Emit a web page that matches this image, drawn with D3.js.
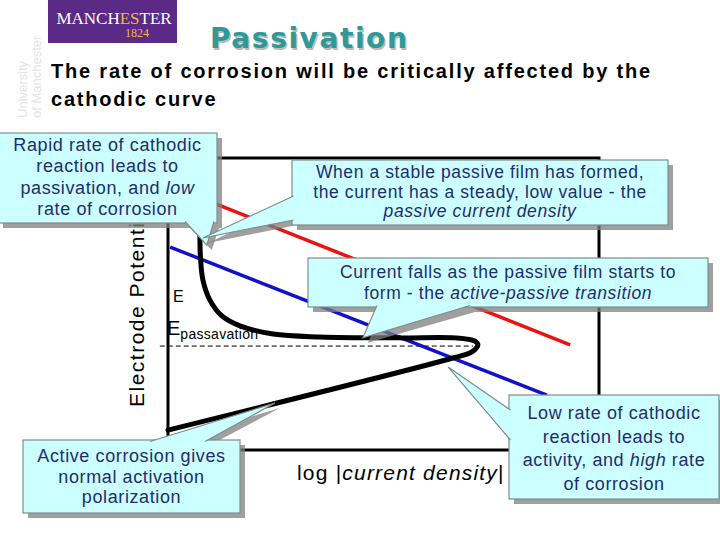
<!DOCTYPE html>
<html>
<head>
<meta charset="utf-8">
<script src="https://cdn.jsdelivr.net/npm/d3@7/dist/d3.min.js"></script>
<style>
  body { margin: 0; background: #fff; }
  svg { display: block; font-family: "Liberation Sans", Arial, sans-serif; }
</style>
</head>
<body>
<script>
//cathodic line for a rapid cathodic reaction (x = log|i|, y = potential)
var redX = [0, 9.33];
var redY = [9.08, 3.60];

//cathodic line for a slow cathodic reaction
var blueX = [0.05, 8.79];
var blueY = [6.95, 1.88];

//anodic curve with the active-passive loop
var anodicX = [0.74, 0.74, 0.75, 0.81, 0.97, 1.25, 1.67, 2.44, 3.53, 5.38, 6.66, 7.12, 7.19, 7.05, 6.61, 0];
var anodicY = [8.10, 7.60, 6.68, 5.82, 5.14, 4.59, 4.25, 3.97, 3.87, 3.84, 3.84, 3.73, 3.60, 3.36, 3.15, 0.68];

//passivation potential (dashed)
var passX = [-0.19, 7.08];
var passY = [3.56, 3.56];

//texts
var titleText = "Passivation";
var subtitleLines = ["The rate of corrosion will be critically affected by the", "cathodic curve"];
var yLabel = "Electrode Potential";
var xLabel = [["log |", false], ["current density", true], ["|", false]];

//callout texts, a "*" in front of a piece means italic
var noteTexts = [
  [["Rapid rate of cathodic"], ["reaction leads to"], ["passivation, and ", "*low"], ["rate of corrosion"]],
  [["When a stable passive film has formed,"], ["the current has a steady, low value - the"], ["*passive current density"]],
  [["Current falls as the passive film starts to"], ["form - the ", "*active-passive transition"]],
  [["Active corrosion gives"], ["normal activation"], ["polarization"]],
  [["Low rate of cathodic"], ["reaction leads to"], ["activity, and ", "*high", " rate"], ["of corrosion"]]
];

//callout layout (box in pixels, tail tip in data units)
var noteBoxes = [
  {x: -2, y: 133, w: 219, h: 90, ty: 151, lh: 21.3, fs: 18, side: "bottom", base: [185, 214], tip: [0.90, 7.02]},
  {x: 292, y: 160, w: 376, h: 65, ty: 178, lh: 19.5, fs: 17.5, side: "left", base: [196, 220], tip: [0.81, 7.26]},
  {x: 308, y: 258, w: 400, h: 49, ty: 278, lh: 21, fs: 17.5, side: "bottom", base: [377, 470], tip: [4.52, 3.84]},
  {x: 23, y: 440, w: 217, h: 73, ty: 462, lh: 20.5, fs: 18, side: "top", base: [150, 205], tip: [2.48, 1.61]},
  {x: 509, y: 395, w: 210, h: 104, ty: 419, lh: 23.7, fs: 18, side: "left", base: [410, 440], tip: [6.50, 2.84]}
];

const w = 720;
const h = 540;

const svg = d3.select("body")
              .append("svg")
              .attr("width", w)
              .attr("height", h);

//scales
const xScale = d3.scaleLinear().domain([0, 10]).range([168, 599]);
const yScale = d3.scaleLinear().domain([0, 10]).range([450, 158]);

//logo block
svg.append("rect")
   .attr("x", 48).attr("y", 0)
   .attr("width", 129).attr("height", 43)
   .attr("fill", "#5a2a86");

var logo = svg.append("text")
   .attr("x", 114).attr("y", 24)
   .attr("text-anchor", "middle")
   .attr("font-family", "Liberation Serif, serif")
   .attr("font-size", 17)
   .attr("fill", "#fff");
logo.append("tspan").text("MANCH");
logo.append("tspan").attr("fill", "#f2b844").text("ES");
logo.append("tspan").text("TER");

svg.append("text")
   .attr("x", 137).attr("y", 37)
   .attr("text-anchor", "middle")
   .attr("font-family", "Liberation Serif, serif")
   .attr("font-size", 12)
   .attr("fill", "#f2b844")
   .text("1824");

//faint vertical university text
["University", "of Manchester"].forEach(function(t, i) {
  svg.append("text")
     .attr("transform", "translate(" + (27 + i * 14) + ",118) rotate(-90)")
     .attr("font-size", 13)
     .attr("fill", "#e4e4e4")
     .text(t);
});

//title with a light shadow
svg.append("text")
   .attr("x", 211.5).attr("y", 49.5)
   .attr("font-family", "DejaVu Sans, Verdana, sans-serif")
   .attr("font-weight", "bold")
   .attr("font-size", 28)
   .attr("letter-spacing", 1.6)
   .attr("fill", "#bbbbbb")
   .text(titleText);
svg.append("text")
   .attr("x", 210).attr("y", 48)
   .attr("font-family", "DejaVu Sans, Verdana, sans-serif")
   .attr("font-weight", "bold")
   .attr("font-size", 28)
   .attr("letter-spacing", 1.6)
   .attr("fill", "#2f9999")
   .text(titleText);

//subtitle
subtitleLines.forEach(function(t, i) {
  svg.append("text")
     .attr("x", 51).attr("y", 78 + i * 28)
     .attr("font-size", 20)
     .attr("font-weight", "bold")
     .attr("letter-spacing", 1.8)
     .attr("fill", "#000")
     .text(t);
});

//axis label (partly hidden under the first callout)
svg.append("text")
   .attr("transform", "translate(144,407) rotate(-90)")
   .attr("font-size", 21)
   .attr("letter-spacing", 1.5)
   .attr("fill", "#000")
   .text(yLabel);

//axis frame
svg.append("rect")
   .attr("x", xScale(0)).attr("y", yScale(10))
   .attr("width", xScale(10) - xScale(0))
   .attr("height", yScale(0) - yScale(10))
   .attr("fill", "none")
   .attr("stroke", "#000")
   .attr("stroke-width", 3);

const line = d3.line()
               .x((d) => xScale(d[0]))
               .y((d) => yScale(d[1]));

//dashed passivation line
svg.append("path")
   .attr("d", line(d3.zip(passX, passY)))
   .attr("fill", "none")
   .attr("stroke", "#000")
   .attr("stroke-width", 1)
   .attr("stroke-dasharray", "5,3");

//cathodic lines
svg.append("path")
   .attr("d", line(d3.zip(redX, redY)))
   .attr("fill", "none")
   .attr("stroke", "#ee1111")
   .attr("stroke-width", 3.5);

svg.append("path")
   .attr("d", line(d3.zip(blueX, blueY)))
   .attr("fill", "none")
   .attr("stroke", "#1111cc")
   .attr("stroke-width", 3.5);

//anodic curve
svg.append("path")
   .attr("d", line.curve(d3.curveCatmullRom.alpha(0.5))(d3.zip(anodicX, anodicY)))
   .attr("fill", "none")
   .attr("stroke", "#000")
   .attr("stroke-width", 5)
   .attr("stroke-linecap", "round");

//E labels
svg.append("text")
   .attr("x", 173).attr("y", 302)
   .attr("font-size", 16)
   .text("E");
var ep = svg.append("text")
   .attr("x", 167).attr("y", 335)
   .attr("font-size", 20);
ep.append("tspan").text("E");
ep.append("tspan").attr("font-size", 14).attr("dy", 4).attr("letter-spacing", 0.3).text("passavation");

//x axis label
var xl = svg.append("text")
   .attr("x", 297).attr("y", 480)
   .attr("font-size", 21)
   .attr("letter-spacing", 1.2)
   .attr("fill", "#000");
xLabel.forEach(function(p) {
  xl.append("tspan").attr("font-style", p[1] ? "italic" : "normal").text(p[0]);
});

//function that returns the tail triangle of a callout
function tailPoints(b, inset) {
  var t = [xScale(b.tip[0]), yScale(b.tip[1])];
  if (b.side == "bottom") return [[b.base[0], b.y + b.h - inset], t, [b.base[1], b.y + b.h - inset]];
  if (b.side == "top") return [[b.base[0], b.y + inset], t, [b.base[1], b.y + inset]];
  return [[b.x + inset, b.base[0]], t, [b.x + inset, b.base[1]]];
}

//draw the callouts
noteBoxes.forEach(function(b, i) {
  var g = svg.append("g");

  //shadow
  var sh = g.append("g")
            .attr("transform", "translate(5,5)")
            .attr("opacity", 0.75);
  sh.append("rect")
    .attr("x", b.x).attr("y", b.y)
    .attr("width", b.w).attr("height", b.h)
    .attr("fill", "#7f7f7f");
  sh.append("path")
    .attr("d", "M" + tailPoints(b, 0).join("L") + "Z")
    .attr("fill", "#7f7f7f");

  //box and tail
  g.append("rect")
   .attr("x", b.x).attr("y", b.y)
   .attr("width", b.w).attr("height", b.h)
   .attr("fill", "#ccffff")
   .attr("stroke", "#7f8c8c")
   .attr("stroke-width", 1.2);
  g.append("path")
   .attr("d", "M" + tailPoints(b, 1.5).join("L"))
   .attr("fill", "#ccffff")
   .attr("stroke", "#7f8c8c")
   .attr("stroke-width", 1.2);

  //text lines
  noteTexts[i].forEach(function(parts, j) {
    var t = g.append("text")
             .attr("x", b.x + b.w / 2)
             .attr("y", b.ty + j * b.lh)
             .attr("text-anchor", "middle")
             .attr("font-size", b.fs)
             .attr("letter-spacing", 0.6)
             .attr("fill", "#1f2d6e");
    parts.forEach(function(p) {
      var it = p.charAt(0) == "*";
      t.append("tspan")
       .attr("font-style", it ? "italic" : "normal")
       .text(it ? p.slice(1) : p);
    });
  });
});
</script>
</body>
</html>
